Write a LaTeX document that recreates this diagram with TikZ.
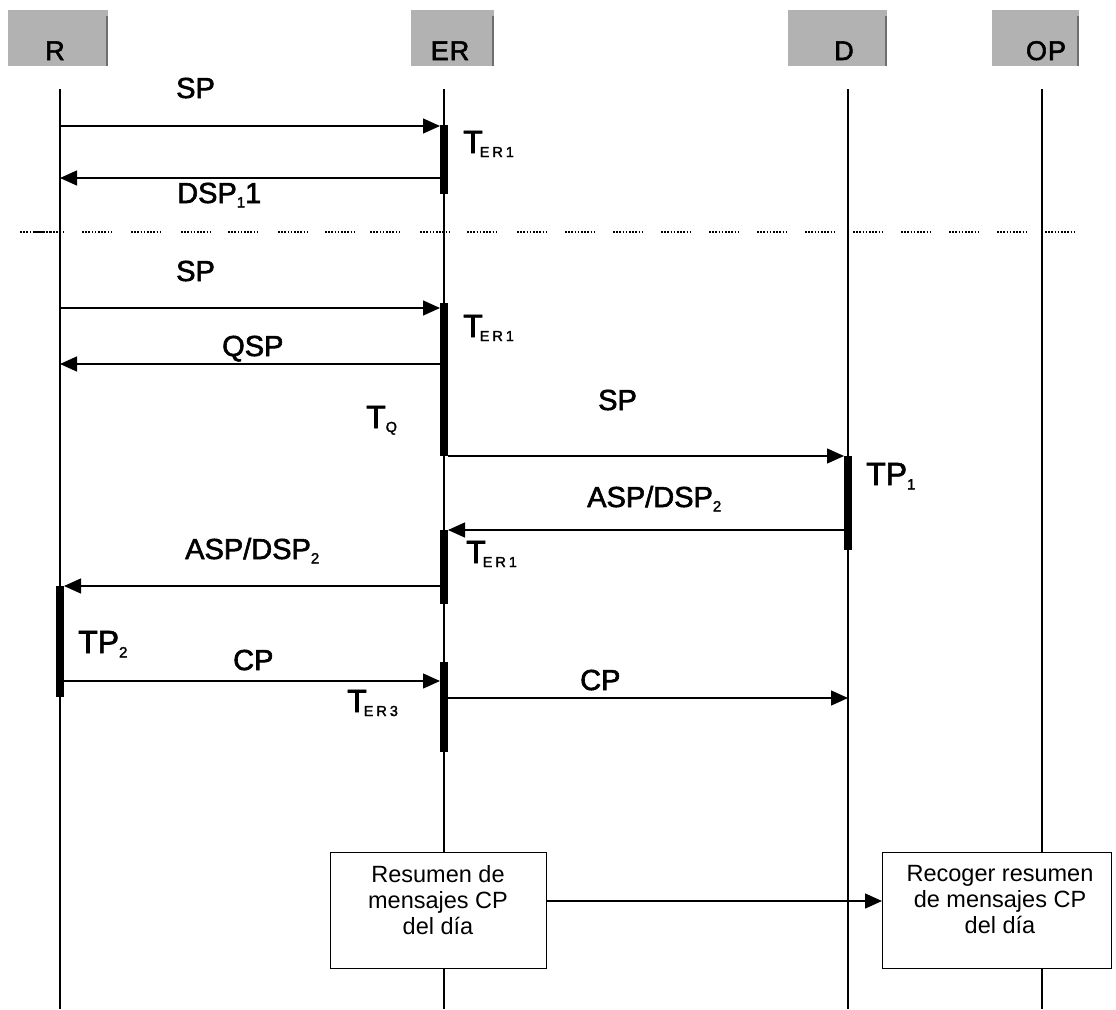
\documentclass[tikz,border=0pt]{standalone}
\usepackage{fontspec}
\setmainfont{Liberation Sans}
\newfontfamily\lblfont{Liberation Sans}[FakeBold=2]
\usetikzlibrary{arrows.meta}
\newcommand\sbs[1]{\raisebox{-4.5pt}{\fontsize{15}{15}\selectfont #1}}
\newcommand\tsub[1]{\kern-3pt\raisebox{-4pt}{\fontsize{14.5}{15}\selectfont #1}}
\definecolor{hdrgray}{RGB}{178,178,178}
\definecolor{hdredge}{RGB}{110,110,110}
\begin{document}
\begin{tikzpicture}[x=1pt,y=-1pt,
  hdr/.style={fill=hdrgray, draw=none, inner sep=0, anchor=north west},
  hdrtxt/.style={inner sep=0, anchor=base, font=\lblfont\fontsize{27}{27}\selectfont},
  life/.style={line width=1.3pt},
  actbar/.style={fill=black, draw=none, minimum width=8pt, inner sep=0, anchor=north},
  msg/.style={line width=1.4pt, -{Triangle[length=17pt,width=15pt]}},
  lbl/.style={inner sep=0, anchor=base west, font=\lblfont\fontsize{29}{29}\selectfont},
  tlbl/.style={inner sep=0, anchor=base west, font=\lblfont\fontsize{32}{32}\selectfont},
  sumbox/.style={draw, line width=1.4pt, fill=white, inner sep=0, anchor=north west},
  sumtxt/.style={inner sep=0, font=\fontsize{23.5}{26}\selectfont, align=center, anchor=north},
  sepdots/.style={line width=1.6pt, black, dash pattern=on 1.6pt off 1.6pt}
]
\useasboundingbox (0,0) rectangle (1116,1009);

% header boxes
\node[hdr, minimum width=100pt, minimum height=56pt] (Rbox) at (8,10) {};
\node[hdr, minimum width=83pt, minimum height=56pt] (ERbox) at (411,10) {};
\node[hdr, minimum width=99pt, minimum height=56pt] (Dbox) at (788,10) {};
\node[hdr, minimum width=87pt, minimum height=56pt] (OPbox) at (992,10) {};
\foreach \b in {Rbox,ERbox,Dbox,OPbox}
  \draw[hdredge, line width=2pt] ([shift={(-1,6)}]\b.north east) -- ([xshift=-1pt]\b.south east);
\node[hdrtxt] (Rt) at (55,60) {R};
\node[hdrtxt] (ERt) at (450,60) {E\kern1pt R};
\node[hdrtxt] (Dt) at (844,60) {D};
\node[hdrtxt] (OPt) at (1046,60) {O\kern1pt P};

% separator
\foreach \x in {20,34,82,131,181,228,278,325,370,420,467,517,565,613,661,709,757,805,853,901,949,997,1045}
  \draw[sepdots] (\x,232) -- ++(31,0);

% lifelines
\coordinate (Rtop) at (60,89);   \coordinate (Rbot) at (60,1009);
\coordinate (ERtop) at (444,89); \coordinate (ERbot) at (444,1009);
\coordinate (Dtop) at (848,89);  \coordinate (Dbot) at (848,1009);
\coordinate (OPtop) at (1042,89);\coordinate (OPbot) at (1042,1009);
\foreach \l in {R,ER,D,OP} \draw[life] (\l top) -- (\l bot);

% activation bars
\node[actbar, minimum height=69pt]  (b1) at (444,125) {};
\node[actbar, minimum height=153pt] (b2) at (444,303) {};
\node[actbar, minimum height=94pt]  (b3) at (848,456) {};
\node[actbar, minimum height=74pt]  (b4) at (444,530) {};
\node[actbar, minimum height=111pt] (b5) at (60,586) {};
\node[actbar, minimum height=90pt]  (b6) at (444,662) {};

% message end points
\coordinate (m1a) at (60,126);  \coordinate (m1b) at (440,126);
\coordinate (m2a) at (440,178); \coordinate (m2b) at (60,178);
\coordinate (m3a) at (60,308);  \coordinate (m3b) at (440,308);
\coordinate (m4a) at (440,364); \coordinate (m4b) at (60,364);
\coordinate (m5a) at (448,456); \coordinate (m5b) at (844,456);
\coordinate (m6a) at (844,530); \coordinate (m6b) at (448,530);
\coordinate (m7a) at (440,586); \coordinate (m7b) at (64,586);
\coordinate (m8a) at (64,681);  \coordinate (m8b) at (440,681);
\coordinate (m9a) at (448,698); \coordinate (m9b) at (848,698);
\foreach \m in {1,...,9} \draw[msg] (m\m a) -- (m\m b);

% labels
\node[lbl] (l1) at (176,98) {SP};
\node[lbl] (l2) at (177,203) {DSP\sbs{1}1};
\node[tlbl] (t1) at (463,153) {T\tsub{E\kern3pt R\kern3pt 1}};
\node[lbl] (l3) at (176,281) {SP};
\node[tlbl] (t2) at (463,337) {T\tsub{E\kern3pt R\kern3pt 1}};
\node[lbl] (l4) at (222,356) {QSP};
\node[tlbl] (t3) at (366,428) {T\raisebox{-4pt}{\fontsize{14.5}{15}\selectfont Q}};
\node[lbl] (l5) at (598,410) {SP};
\node[tlbl] (t4) at (866,485) {TP\sbs{1}};
\node[lbl] (l6) at (587,507) {ASP/DSP\sbs{2}};
\node[tlbl] (t5) at (466,563) {T\tsub{E\kern3pt R\kern3pt 1}};
\node[lbl] (l7) at (185,559) {ASP/DSP\sbs{2}};
\node[tlbl] (t6) at (78,653) {TP\sbs{2}};
\node[lbl] (l8) at (233,670) {CP};
\node[tlbl] (t7) at (347,712) {T\tsub{E\kern3pt R\kern3pt 3}};
\node[lbl] (l9) at (580,690) {CP};

% summary boxes
\node[sumbox, minimum width=216pt, minimum height=116pt] (s1) at (330,852) {};
\node[sumbox, minimum width=229pt, minimum height=116pt] (s2) at (882,852) {};
\node[sumtxt] (s1t) at (438,865) {Resumen de\\mensajes CP\\del día};
\node[sumtxt] (s2t) at (1000,865) {Recoger resumen\\de mensajes CP\\del día};
\draw[msg] (s1.east |- 0,901) -- (s2.west |- 0,901);
\end{tikzpicture}
\end{document}
